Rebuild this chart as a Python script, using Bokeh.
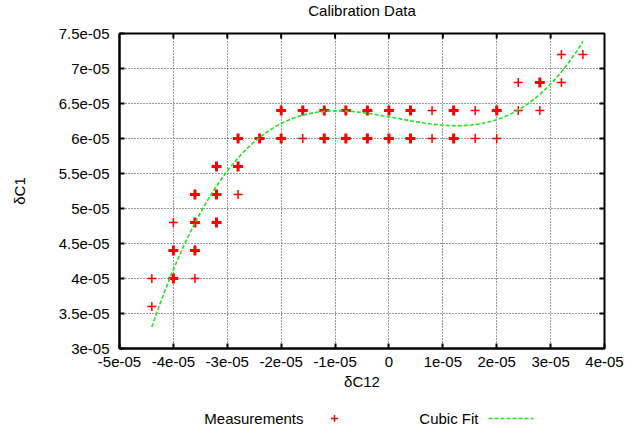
import numpy as np
from collections import Counter

from bokeh.plotting import figure
from bokeh.layouts import column
from bokeh.models import FixedTicker
from bokeh.core.properties import value
from bokeh.embed import file_html
from bokeh.resources import INLINE

# ---- measurements (repeated readings are listed more than once) ----
meas_x = [
    -4.4e-5, -4.4e-5,
    -4.0e-5, -4.0e-5, -4.0e-5, -4.0e-5, -4.0e-5,
    -3.6e-5, -3.6e-5, -3.6e-5, -3.6e-5, -3.6e-5, -3.6e-5, -3.6e-5,
    -3.2e-5, -3.2e-5, -3.2e-5, -3.2e-5, -3.2e-5, -3.2e-5,
    -2.8e-5, -2.8e-5, -2.8e-5, -2.8e-5, -2.8e-5,
    -2.4e-5, -2.4e-5,
    -2.0e-5, -2.0e-5, -2.0e-5, -2.0e-5,
    -1.6e-5, -1.6e-5, -1.6e-5,
    -1.2e-5, -1.2e-5, -1.2e-5, -1.2e-5,
    -0.8e-5, -0.8e-5, -0.8e-5, -0.8e-5,
    -0.4e-5, -0.4e-5, -0.4e-5, -0.4e-5,
    0.0, 0.0, 0.0, 0.0,
    0.4e-5, 0.4e-5, 0.4e-5, 0.4e-5,
    0.8e-5, 0.8e-5,
    1.2e-5, 1.2e-5, 1.2e-5, 1.2e-5,
    1.6e-5, 1.6e-5,
    2.0e-5, 2.0e-5, 2.0e-5,
    2.4e-5, 2.4e-5,
    2.8e-5, 2.8e-5, 2.8e-5,
    3.2e-5, 3.2e-5,
    3.6e-5,
]
meas_y = [
    4.0e-5, 3.6e-5,
    4.8e-5, 4.4e-5, 4.4e-5, 4.0e-5, 4.0e-5,
    5.2e-5, 5.2e-5, 4.8e-5, 4.8e-5, 4.4e-5, 4.4e-5, 4.0e-5,
    5.6e-5, 5.6e-5, 5.2e-5, 5.2e-5, 4.8e-5, 4.8e-5,
    6.0e-5, 6.0e-5, 5.6e-5, 5.6e-5, 5.2e-5,
    6.0e-5, 6.0e-5,
    6.4e-5, 6.4e-5, 6.0e-5, 6.0e-5,
    6.4e-5, 6.4e-5, 6.0e-5,
    6.4e-5, 6.4e-5, 6.0e-5, 6.0e-5,
    6.4e-5, 6.4e-5, 6.0e-5, 6.0e-5,
    6.4e-5, 6.4e-5, 6.0e-5, 6.0e-5,
    6.4e-5, 6.4e-5, 6.0e-5, 6.0e-5,
    6.4e-5, 6.4e-5, 6.0e-5, 6.0e-5,
    6.4e-5, 6.0e-5,
    6.4e-5, 6.4e-5, 6.0e-5, 6.0e-5,
    6.4e-5, 6.0e-5,
    6.4e-5, 6.4e-5, 6.0e-5,
    6.8e-5, 6.4e-5,
    6.8e-5, 6.8e-5, 6.4e-5,
    7.2e-5, 6.8e-5,
    7.2e-5,
]

# ---- values of the cubic fit curve along its span ----
fit_x = [-4.4e-5, -4.0e-5, -3.56e-5, -3.0e-5, -2.4e-5, -2.0e-5, -1.6e-5,
         -1.2e-5, -0.8e-5, -0.4e-5, 0.0, 0.4e-5, 0.8e-5, 1.2e-5, 1.6e-5,
         2.0e-5, 2.4e-5, 2.8e-5, 3.2e-5, 3.6e-5]
fit_y = [3.29e-5, 4.11e-5, 4.92e-5, 5.52e-5, 6.00e-5, 6.21e-5, 6.33e-5,
         6.386e-5, 6.386e-5, 6.36e-5, 6.30e-5, 6.26e-5, 6.21e-5, 6.186e-5,
         6.21e-5, 6.28e-5, 6.40e-5, 6.61e-5, 6.97e-5, 7.38e-5]

# ---- axis ticks and their labels ----
x_tick_labels = ["-5e-05", "-4e-05", "-3e-05", "-2e-05", "-1e-05",
                 "0", "1e-05", "2e-05", "3e-05", "4e-05"]
y_tick_labels = ["3e-05", "3.5e-05", "4e-05", "4.5e-05", "5e-05",
                 "5.5e-05", "6e-05", "6.5e-05", "7e-05", "7.5e-05"]

title_text = "Calibration Data"
x_label = "\u03b4C12"
y_label = "\u03b4C1"
series_names = ["Measurements", "Cubic Fit"]

FONT = "Liberation Sans"
FS = "15px"
POINT_COLOR = "#ff0000"
FIT_COLOR = "#22e022"
FIT_DASH = "4 2"

W = 626
BORDER_L, BORDER_R = 119, 22
TITLE_H, MAIN_H, KEY_H = 20, 375, 40

x_ticks = [float(s) for s in x_tick_labels]
y_ticks = [float(s) for s in y_tick_labels]


def strip(fig):
    """A bare figure used only as a canvas for text and key samples."""
    fig.axis.visible = False
    fig.grid.visible = False
    fig.outline_line_color = None
    fig.background_fill_color = "white"
    fig.border_fill_color = "white"


# ---- title strip ----
t = figure(width=W, height=TITLE_H, x_range=(BORDER_L, W - BORDER_R),
           y_range=(0, TITLE_H), output_backend="svg", toolbar_location=None,
           min_border=0, min_border_left=BORDER_L, min_border_right=BORDER_R)
strip(t)
t.text(x=[(BORDER_L + W - BORDER_R) / 2], y=[TITLE_H - 9.5], text=[title_text],
       text_align="center", text_baseline="middle", text_font=value(FONT),
       text_font_size=FS, text_color="black")

# ---- main plot ----
p = figure(
    width=W, height=MAIN_H,
    x_range=(x_ticks[0], x_ticks[-1]), y_range=(y_ticks[0], y_ticks[-1]),
    output_backend="svg", toolbar_location=None,
    min_border_left=BORDER_L, min_border_right=BORDER_R,
    min_border_top=13, min_border_bottom=47,
)
p.background_fill_color = "white"
p.border_fill_color = "white"
p.outline_line_color = "black"
p.outline_line_width = 2

xt = FixedTicker(ticks=x_ticks)
yt = FixedTicker(ticks=y_ticks)


def style_axis(ax, ticker, labels, ticks):
    ax.ticker = ticker
    ax.axis_line_color = "black"
    ax.axis_line_width = 2
    ax.major_tick_line_color = "black"
    ax.major_tick_line_width = 2
    ax.major_tick_in = 5
    ax.major_tick_out = 0
    ax.minor_tick_line_color = None
    ax.major_label_text_font = FONT
    ax.major_label_text_font_size = FS
    ax.major_label_text_color = "black"
    ax.major_label_overrides = {t: s for t, s in zip(ticks, labels)}
    ax.axis_label_text_font = FONT
    ax.axis_label_text_font_size = FS
    ax.axis_label_text_font_style = "normal"
    ax.axis_label_text_color = "black"


style_axis(p.xaxis[0], xt, x_tick_labels, x_ticks)
style_axis(p.yaxis[0], yt, y_tick_labels, y_ticks)
p.xaxis[0].axis_label = x_label
p.yaxis[0].axis_label = y_label
p.xaxis[0].major_label_standoff = 8
p.xaxis[0].axis_label_standoff = 3
p.yaxis[0].major_label_standoff = 10
p.yaxis[0].axis_label_standoff = 28

p.xgrid.ticker = xt
p.ygrid.ticker = yt
for g in (p.xgrid[0], p.ygrid[0]):
    g.grid_line_color = "#333333"
    g.grid_line_dash = "1 2"
    g.grid_line_width = 1

# mirrored tick marks on the top and right borders (clipped to the frame,
# so only the inner half of each dash shows)
p.scatter(x=x_ticks[1:-1], y=[y_ticks[-1]] * (len(x_ticks) - 2),
          marker="dash", angle=np.pi / 2, size=10,
          line_color="black", line_width=2)
p.scatter(x=[x_ticks[-1]] * (len(y_ticks) - 2), y=y_ticks[1:-1],
          marker="dash", size=10, line_color="black", line_width=2)

# repeated readings are drawn with a heavier cross
counts = Counter(zip(meas_x, meas_y))
single = [k for k, c in counts.items() if c == 1]
multi = [k for k, c in counts.items() if c > 1]

p.scatter(x=[k[0] for k in single], y=[k[1] for k in single],
          marker="cross", size=9, line_color=POINT_COLOR, line_width=1.5)
p.scatter(x=[k[0] for k in multi], y=[k[1] for k in multi],
          marker="cross", size=10, line_color=POINT_COLOR, line_width=3)

# smooth cubic through the fit values (solved in scaled units)
S = 1e5
cx = np.array(fit_x) * S
cy = np.array(fit_y) * S
coef = np.polyfit(cx, cy, 3)
fx = np.linspace(cx.min(), cx.max(), 300)
fy = np.polyval(coef, fx)
p.line(x=fx / S, y=fy / S, line_color=FIT_COLOR, line_width=1.6,
       line_dash=FIT_DASH)

# ---- key below the plot (its frame lines up with the plot frame above) ----
k = figure(width=W, height=KEY_H, x_range=(BORDER_L, W - BORDER_R),
           y_range=(0, KEY_H), output_backend="svg", toolbar_location=None,
           min_border=0, min_border_left=BORDER_L, min_border_right=BORDER_R)
strip(k)
k.text(x=[303, 478], y=[17, 17], text=series_names, text_align="right",
       text_baseline="middle", text_font=value(FONT), text_font_size=FS,
       text_color="black")
k.scatter(x=[334], y=[17], marker="cross", size=7, line_color=POINT_COLOR,
          line_width=1.5)
k.line(x=[488, 533], y=[17, 17], line_color=FIT_COLOR, line_width=1.6,
       line_dash=FIT_DASH)

layout = column(t, p, k, spacing=0)
open("out.html", "w").write(file_html(layout, INLINE))
